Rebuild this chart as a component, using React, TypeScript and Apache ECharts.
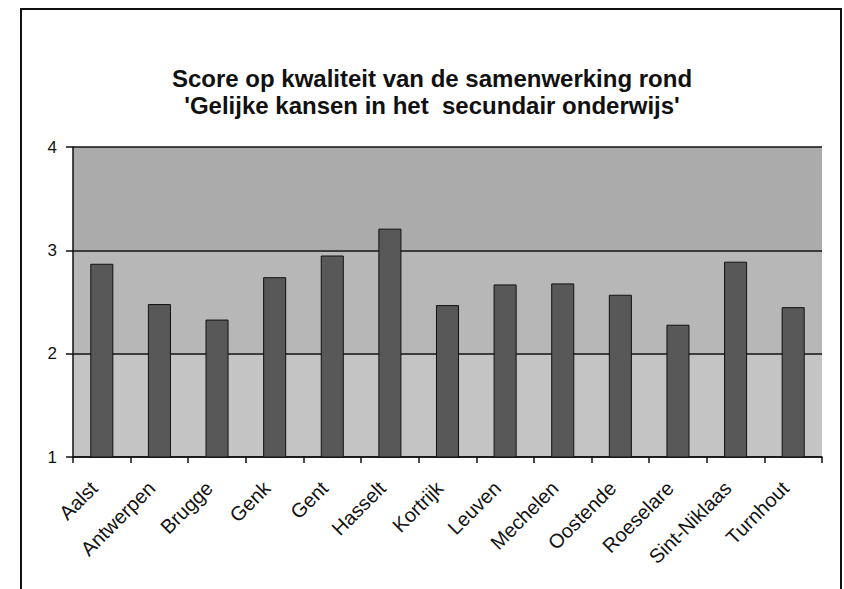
import React, { useEffect, useRef } from "react";
import * as echarts from "echarts";

const titleLines = [
  "Score op kwaliteit van de samenwerking rond",
  "'Gelijke kansen in het  secundair onderwijs'",
];
const categories = [
  "Aalst", "Antwerpen", "Brugge", "Genk", "Gent", "Hasselt", "Kortrijk",
  "Leuven", "Mechelen", "Oostende", "Roeselare", "Sint-Niklaas", "Turnhout",
];
const scores = [2.87, 2.48, 2.33, 2.74, 2.95, 3.21, 2.47, 2.67, 2.68, 2.57, 2.28, 2.89, 2.45];
const yMin = 1;
const yMax = 4;
const yInterval = 1;

export default function App() {
  const ref = useRef<HTMLDivElement>(null);
  useEffect(() => {
    if (!ref.current) return;
    const chart = echarts.init(ref.current, undefined, { renderer: "svg" });
    const font = "Liberation Sans, Arial, sans-serif";
    chart.setOption({
      animation: false,
      backgroundColor: "#ffffff",
      graphic: [
        {
          type: "rect",
          shape: { x: 21, y: 9, width: 820, height: 600 },
          style: { fill: "none", stroke: "#111", lineWidth: 2 },
          silent: true,
        },
        ...titleLines.map((t, i) => ({
          type: "text",
          x: 432,
          y: 78 + i * 27,
          silent: true,
          style: {
            text: t,
            textAlign: "center",
            textVerticalAlign: "middle",
            fontFamily: font,
            fontWeight: "bold",
            fontSize: 24,
            fill: "#111",
          },
        })),
      ],
      grid: { left: 73, right: 22, top: 147, bottom: 132 },
      xAxis: {
        type: "category",
        data: categories,
        axisLine: { lineStyle: { color: "#111", width: 1.5 } },
        axisTick: { show: true, length: 6, lineStyle: { color: "#111", width: 1.5 } },
        axisLabel: {
          rotate: 45,
          interval: 0,
          margin: 20,
          padding: [0, 11, 0, 0],
          fontFamily: font,
          fontSize: 20,
          color: "#111",
        },
      },
      yAxis: {
        type: "value",
        min: yMin,
        max: yMax,
        interval: yInterval,
        axisLine: { show: true, lineStyle: { color: "#111", width: 1.5 } },
        axisTick: { show: true, length: 7, lineStyle: { color: "#111", width: 1.5 } },
        axisLabel: { margin: 16, fontFamily: font, fontSize: 17, color: "#111" },
        splitLine: { show: true, lineStyle: { color: "#111", width: 1.5 } },
        splitArea: {
          show: true,
          areaStyle: { color: ["#c4c4c4", "#b7b7b7", "#ababab"] },
        },
      },
      series: [
        {
          type: "bar",
          data: scores,
          barWidth: "40%",
          itemStyle: { color: "#585858", borderColor: "#111", borderWidth: 1 },
        },
      ],
    });
    return () => chart.dispose();
  }, []);
  return (
    <div
      ref={ref}
      style={{ position: "absolute", left: 0, top: 0, width: 844, height: 589 }}
    />
  );
}
